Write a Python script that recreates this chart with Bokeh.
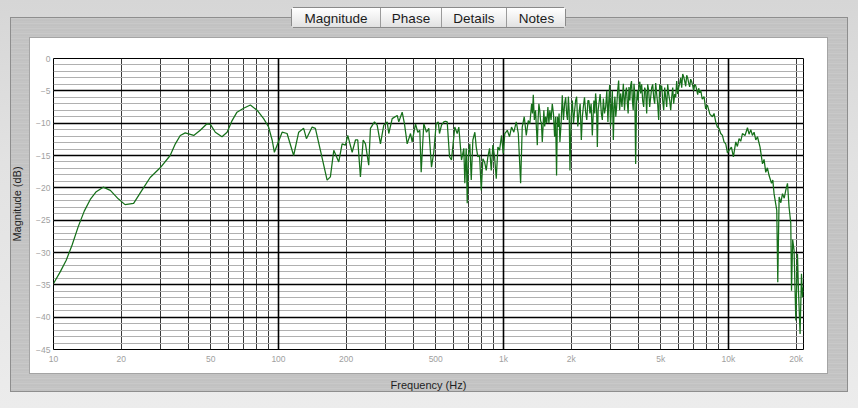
import math
from bokeh.plotting import figure
from bokeh.models import FixedTicker, Grid, Range1d, LogAxis
from bokeh.embed import file_html
from bokeh.resources import INLINE

# ---- data ----
freq_hz = [
    10.0, 10.71, 11.39, 12.11, 12.88, 13.7, 14.57, 15.49, 16.63, 17.89, 19.4, 20.8, 22.7, 24.7, 26.9,
    29.8, 33.0, 34.8, 36.6,
    38.5, 42.0, 44.9, 48.1, 49.8, 52.4, 56.1, 59.1, 62.2, 65.4, 70.0, 75.0, 80.3, 85.9, 90.4, 93.7,
    95.9, 98.6, 103.8, 109.2, 116.8, 123, 129.4, 133.1, 141.1, 145.9, 153.6, 164.5, 170.1, 176.1,
    185.3, 191.8, 198.5, 203.2, 212.6, 219.9, 225.1, 231.3, 237.9, 243.6, 251.8, 256.3, 267.1, 274.6,
    284, 293.8, 304.2, 309.2, 320.2, 337.1, 342.5, 354.7, 363.1, 373.3, 386.3, 392.9, 406.4, 416.1,
    424.7, 430.8, 442.5, 454.9, 465.8, 478.8, 490.2, 502.3, 512.9, 519.6, 530.4, 543.1, 552.6, 562.3,
    575.8, 587.5, 607.7, 622.9, 633.2, 651, 666.5, 673.4, 683.1, 690.2, 697.3, 708.8, 719.2, 731.1,
    746.2, 756.9, 769.4, 783, 796.9, 810, 824.1, 838.6, 852.5, 867.6, 882.8, 897.3, 913.1, 929,
    944.5, 960.8, 980.6, 997.9, 1014, 1040, 1064, 1086, 1112, 1140, 1164, 1192, 1212, 1237, 1263,
    1289, 1310, 1334, 1357, 1389, 1414, 1437, 1462, 1488, 1512, 1539, 1576, 1608, 1648, 1688, 1722,
    1753, 1782, 1826, 1870, 1909, 1943, 1975, 2024, 2072, 2115, 2165, 2219, 2265, 2319, 2374, 2423,
    2483, 2524, 2568, 2614, 2657, 2723, 2780, 2846, 2913, 2965, 3017, 3079, 3130, 3185, 3251, 3318,
    3411, 3493, 3554, 3613, 3677, 3742, 3804, 3869, 3938, 4003, 4073, 4157, 4243, 4331, 4421, 4512,
    4606, 4700, 4798, 4897, 4999, 5102, 5208, 5316, 5426, 5538, 5653, 5770, 5888, 6010, 6135, 6262,
    6391, 6523, 6658, 6795, 6936, 7079, 7226, 7375, 7530, 7650, 7790, 7920, 8065, 8270, 8488, 8630,
    8781, 8930, 9084, 9240, 9404, 9560, 9727, 9900, 10060, 10310, 10520, 10780, 10960, 11150, 11340,
    11540, 11850, 12150, 12350, 12570, 12780, 13000, 13230, 13460, 13820, 14170, 14400, 14650, 14900,
    15160, 15540, 15750, 15950, 16400, 16570, 16800, 17100, 17390, 17700, 17980, 18300, 18600, 18930,
    19070, 19300, 19580, 19930, 20270, 20480, 20820, 21120, 21340, 21470,
]
magnitude_db = [
    -34.8, -33.0, -31.2, -28.8, -26.0, -23.6, -21.8, -20.6, -19.9, -20.4, -21.7, -22.6, -22.4, -20.4, -18.4,
    -16.9, -15.0, -13.2, -11.9,
    -11.5, -11.9, -11.1, -10.1, -10.2, -11.4, -12.1, -11.4, -9.6, -8.3, -7.7, -7.2, -8.0, -9.3, -10.6, -12.6,
    -14.5, -13.4, -11.4, -11.6, -15.0, -11.4, -10.8, -12.4, -10.6, -10.8, -14.2, -18.8, -18.3, -14.2,
    -16.0, -13.2, -13.4, -11.9, -14.5, -12.6, -12.6, -18.3, -12.6, -13.2, -16.5, -10.8, -9.8, -10.3,
    -13.2, -10.3, -9.8, -11.6, -9.3, -8.8, -9.8, -8.3, -10.1, -13.2, -11.6, -12.9, -10.1, -11.4,
    -11.1, -17.6, -10.1, -11.4, -10.8, -16.8, -14.5, -10.1, -9.8, -11.6, -10.3, -9.8, -9.7, -9.8,
    -15.2, -15.7, -10.6, -11.6, -10.6, -15.7, -13.9, -19.3, -13.9, -22.4, -15.2, -13.2, -18.8, -12.6,
    -11.4, -13.7, -15.2, -15.0, -20.4, -15.5, -16.0, -17.3, -15.2, -13.9, -17.3, -13.4, -15.2, -18.6,
    -13.7, -14.2, -11.9, -14.7, -11.6, -11.1, -12.1, -10.6, -11.4, -9.8, -11.6, -19.3, -10.6, -9.0, -11.9,
    -9.6, -10.1, -7.0, -5.6, -8.0, -13.4, -7.0, -9.6, -12.9, -8.0, -9.0, -7.5, -8.0, -7.0, -12.1, -18.1,
    -10.6, -12.9, -5.7, -7.0, -8.5, -5.9, -17.3, -6.5, -8.0, -5.9, -8.5, -12.6, -7.5, -8.3, -6.5, -8.5,
    -11.9, -6.5, -5.4, -13.7, -7.0, -8.5, -6.2, -7.5, -9.8, -4.1, -8.0, -12.6, -5.9, -7.5, -3.4, -5.4,
    -3.9, -5.2, -7.0, -4.4, -4.1, -6.5, -3.9, -16.3, -4.9, -4.1, -5.4, -6.5, -4.5, -8.5, -5.0, -6.0,
    -4.0, -7.0, -5.5, -9.5, -5.0, -6.5, -4.5, -7.5, -5.5, -8.0, -4.5, -5.5, -3.5, -4.5, -3.0, -2.4,
    -3.5, -2.6, -3.8, -3.2, -4.2, -4.0, -4.8, -4.6, -4.9, -6.3, -5.9, -7.8, -7.2, -8.6, -9.0, -8.5,
    -9.8, -10.6, -10.8, -11.6, -11.9, -12.9, -13.2, -14.6, -14.2, -13.7, -15.2, -12.9, -13.6, -12.4, -12.8,
    -11.6, -11.9, -10.7, -11.7, -11.0, -11.9, -11.4, -12.6, -12.1, -13.7, -16.3, -15.6, -17.6, -16.9,
    -18.1, -19.3, -18.8, -20.9, -23.5, -34.6, -21.4, -22.3, -20.9, -21.6, -20.4, -19.3, -23.0, -25.5,
    -35.9, -28.0, -29.7, -40.5, -30.2, -35.9, -42.6, -33.3, -36.9, -35.4,
]
# extra readings of the dense 1.3k - 7.5k band
freq_hz_band = [
    1346, 1372, 1400, 1425, 1450, 1475, 1500, 1525, 1557, 1592, 1628, 1668, 1705, 1737, 1767, 1804,
    1848, 1890, 1926, 1959, 2000, 2048, 2093, 2140, 2192, 2242, 2292, 2346, 2398, 2453, 2503, 2546,
    2591, 2635, 2690, 2751, 2813, 2880, 2939, 2991, 3048, 3104, 3157, 3218, 3284, 3364, 3452, 3523,
    3583, 3645, 3709, 3773, 3836, 3903, 3970, 4038, 4115, 4200, 4287, 4376, 4466, 4559, 4653, 4749,
    4847, 4948, 5050, 5155, 5262, 5371, 5482, 5595, 5711, 5829, 5949, 6072, 6198, 6326, 6457, 6590,
    6726, 6865, 7007, 7152, 7300, 7452,
]
magnitude_db_band = [
    -8.5, -9.5, -10.5, -9.5, -8.0, -10.0, -10.5, -10.5, -10.0, -10.0, -9.5, -8.5, -9.0, -9.0, -8.5, -10.0,
    -9.5, -6.0, -9.5, -8.0, -9.0, -10.0, -6.5, -10.5, -7.0, -9.0, -6.0, -9.5, -6.5, -7.0, -9.0, -8.5,
    -7.0, -8.0, -5.5, -9.5, -8.5, -5.0, -6.5, -10.5, -5.0, -7.5, -9.0, -5.0, -8.0, -7.5, -8.0, -4.5,
    -8.5, -6.5, -3.5, -8.0, -5.5, -7.0, -6.5, -3.6, -4.0, -7.5, -5.0, -4.0, -7.5, -4.5, -6.0, -3.8,
    -7.0, -4.0, -4.2, -8.0, -6.0, -4.0, -6.5, -6.0, -7.0, -6.0, -5.5, -3.8, -4.5, -2.8, -4.3, -3.0,
    -4.4, -3.6, -5.0, -4.2, -5.6, -5.3,
]

x_tick_values = [10, 20, 50, 100, 200, 500, 1000, 2000, 5000, 10000, 20000]
x_tick_labels = ["10", "20", "50", "100", "200", "500", "1k", "2k", "5k", "10k", "20k"]
y_tick_values = [0, -5, -10, -15, -20, -25, -30, -35, -40, -45]
y_minor_values = list(range(-45, 1))
decade_values = [10, 100, 1000, 10000]
x_grid_values = [m * d for d in decade_values for m in range(2, 10) if m * d <= 21500]
tab_names = ["Magnitude", "Phase", "Details", "Notes"]
x_title = "Frequency (Hz)"
y_title = "Magnitude (dB)"

pts = sorted(zip(freq_hz + freq_hz_band, magnitude_db + magnitude_db_band))
curve_f = [a for a, _ in pts]
curve_m = [b for _, b in pts]

# ---- figure ----
W, H = 858, 408
BL, BR, BT, BB = 53, 55, 58, 59
X_MIN, X_MAX = 10, 21560
FONT = "Liberation Sans"

p = figure(width=W, height=H, x_axis_type="log",
           x_range=Range1d(X_MIN, X_MAX), y_range=Range1d(-45, 0),
           output_backend="svg", toolbar_location=None,
           min_border_left=BL, min_border_right=BR, min_border_top=BT, min_border_bottom=BB,
           border_fill_alpha=0, background_fill_color="white",
           outline_line_color="black", outline_line_width=1)

# window chrome (tab view, white panel, segmented control) drawn as page background
OUT_TOP = "#d6d6d6"
METAL_TOP = "#c9c9c9"
layers = [
    # rounded corners of the segmented control
    f"linear-gradient({OUT_TOP},{OUT_TOP}) 291px 7px / 2px 1px no-repeat",
    f"linear-gradient({OUT_TOP},{OUT_TOP}) 291px 8px / 1px 1px no-repeat",
    f"linear-gradient({OUT_TOP},{OUT_TOP}) 564px 7px / 2px 1px no-repeat",
    f"linear-gradient({OUT_TOP},{OUT_TOP}) 565px 8px / 1px 1px no-repeat",
    f"linear-gradient({METAL_TOP},{METAL_TOP}) 291px 27px / 2px 1px no-repeat",
    f"linear-gradient({METAL_TOP},{METAL_TOP}) 291px 26px / 1px 1px no-repeat",
    f"linear-gradient({METAL_TOP},{METAL_TOP}) 564px 27px / 2px 1px no-repeat",
    f"linear-gradient({METAL_TOP},{METAL_TOP}) 565px 26px / 1px 1px no-repeat",
    # tab dividers
    "linear-gradient(#9b9b9b,#9b9b9b) 380px 8px / 1px 19px no-repeat",
    "linear-gradient(#9b9b9b,#9b9b9b) 441px 8px / 1px 19px no-repeat",
    "linear-gradient(#9b9b9b,#9b9b9b) 506px 8px / 1px 19px no-repeat",
    # segmented control
    "linear-gradient(#ffffff,#f1f1f1 50%,#e2e2e2) 292px 8px / 273px 19px no-repeat",
    "linear-gradient(#8a8a8a,#8a8a8a) 291px 7px / 275px 21px no-repeat",
    # white panel + border
    "linear-gradient(#ffffff,#ffffff) 30px 38px / 797px 335px no-repeat",
    "linear-gradient(#a4a4a4,#a4a4a4) 29px 37px / 799px 337px no-repeat",
    # brushed metal tab view
    "repeating-linear-gradient(180deg,#c9c9c9 0px,#c9c9c9 1px,#bdbdbd 2px,#c6c6c6 3px,#c2c2c2 5px) "
    "11px 18px / 836px 373px no-repeat",
    "linear-gradient(#8e8e8e,#8e8e8e) 10px 17px / 838px 375px no-repeat",
    # outer window
    f"linear-gradient(180deg,{OUT_TOP},#e2e2e2 40%,#ececec) 0px 0px / 858px 408px no-repeat",
]
p.styles = {"background": ", ".join(layers)}

p.xaxis.ticker = FixedTicker(ticks=x_tick_values)
p.xaxis.major_label_overrides = dict(zip(x_tick_values, x_tick_labels))
p.yaxis.ticker = FixedTicker(ticks=y_tick_values)
for ax in (p.xaxis[0], p.yaxis[0]):
    ax.axis_line_color = None
    ax.major_tick_line_color = None
    ax.minor_tick_line_color = None
    ax.major_tick_out = 0
    ax.major_tick_in = 0
    ax.minor_tick_out = 0
    ax.minor_tick_in = 0
    ax.major_label_text_font = FONT
    ax.major_label_text_font_size = "8.5px"
    ax.major_label_text_color = "#a0a0a0"
    ax.axis_label_text_font = FONT
    ax.axis_label_text_font_size = "11px"
    ax.axis_label_text_font_style = "normal"
    ax.axis_label_text_color = "#1e1e1e"
p.xaxis.major_label_standoff = 4
p.yaxis.major_label_standoff = 3
p.xaxis.axis_label = x_title
p.yaxis.axis_label = y_title
p.xaxis.axis_label_standoff = 12
p.yaxis.axis_label_standoff = 10

# segmented-control captions as an axis above the frame
ppd = (W - BL - BR) / math.log10(X_MAX / X_MIN)
tab_centers_px = [335.5, 410.5, 473.5, 536]
tab_ticks = [round(10 ** (math.log10(X_MIN) + (c - BL) / ppd), 3) for c in tab_centers_px]
tab_axis = LogAxis(ticker=FixedTicker(ticks=tab_ticks),
                   major_label_overrides=dict(zip(tab_ticks, tab_names)),
                   axis_line_color=None, major_tick_line_color=None, minor_tick_line_color=None,
                   major_tick_out=0, major_tick_in=0, minor_tick_out=0, minor_tick_in=0,
                   major_label_standoff=33, major_label_text_font=FONT,
                   major_label_text_font_size="13.5px", major_label_text_color="#1a1a1a")
p.add_layout(tab_axis, "above")

# grids
p.xgrid.ticker = FixedTicker(ticks=x_grid_values)
p.xgrid.grid_line_color = "#3a3a3a"
p.xgrid.grid_line_width = 1
p.add_layout(Grid(dimension=0, ticker=FixedTicker(ticks=decade_values),
                  grid_line_color="black", grid_line_width=1.6))
p.ygrid.ticker = FixedTicker(ticks=y_tick_values, minor_ticks=y_minor_values)
p.ygrid.grid_line_color = "black"
p.ygrid.grid_line_width = 1.5
p.ygrid.minor_grid_line_color = "#b0b0b0"
p.ygrid.minor_grid_line_width = 1

p.line(curve_f, curve_m, line_color="#16701a", line_width=1.25)

open("out.html", "w").write(file_html(p, INLINE))
